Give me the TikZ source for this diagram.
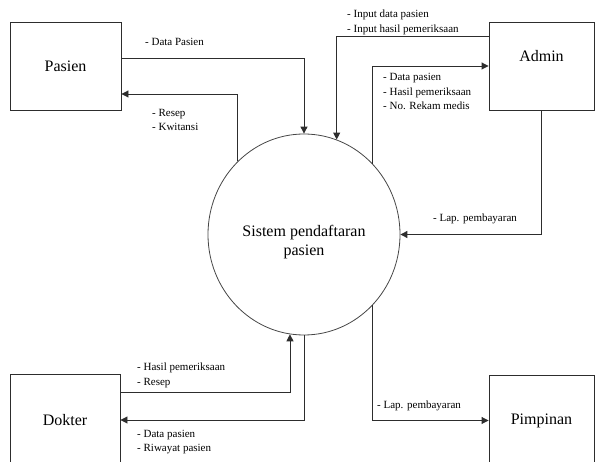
\documentclass[tikz,border=0pt]{standalone}
\usepackage{fontspec}
\setmainfont{Liberation Serif}
\usetikzlibrary{shapes.geometric,arrows.meta}
\definecolor{dfdcolor0001}{RGB}{45,45,45}
\definecolor{dfdcolor0002}{RGB}{70,70,70}

\begin{document}
\begin{tikzpicture}[yscale=-1
            ,pstyle0/.style={draw=dfdcolor0001,line width=0.9pt,inner sep=0pt,font=\fontsize{16}{18}\selectfont}
            ,pstyle1/.style={ellipse,draw=dfdcolor0002,line width=0.8pt,minimum width=192pt,minimum height=201pt,inner sep=0pt}
            ,pstyle2/.style={color=dfdcolor0001,line width=0.9pt,-{Triangle[length=7pt,width=7pt]}}
            ,pstyle3/.style={anchor=west,align=left,inner sep=0pt,font=\fontsize{11}{14.5}\selectfont}
            ,pstyle4/.style={align=center,inner sep=0pt,font=\fontsize{16}{19}\selectfont}
        ]
        \useasboundingbox (0pt,0pt) rectangle (595pt,462pt);
        % entities and process
        \node[pstyle0,minimum width=111pt,minimum height=88pt] (pasien) at (65.5pt,66pt) {Pasien};
        \node[pstyle0,minimum width=105pt,minimum height=88pt,text depth=21pt] (admin) at (541.5pt,66pt) {Admin};
        \node[pstyle0,minimum width=110pt,minimum height=92pt] (dokter) at (65pt,420pt) {Dokter};
        \node[pstyle0,minimum width=105pt,minimum height=91pt] (pimpinan) at (541.5pt,420.5pt) {Pimpinan};
        \node[pstyle1] (sistem) at (304pt,234.5pt) {};
        \node[pstyle4] (sistemtext) at (304pt,242pt) {Sistem pendaftaran\\pasien};
        % bends
        \coordinate (c1) at (0pt,58pt);
        \coordinate (c2) at (0pt,94pt);
        \coordinate (c3) at (0pt,36pt);
        \coordinate (c4) at (0pt,392pt);
        % flows
        \draw[pstyle2] (pasien.east |- c1) -| (sistem.north);
        \draw[pstyle2] (sistem.132) |- (pasien.east |- c2);
        \draw[pstyle2] (admin.west |- c3) -| (sistem.71);
        \draw[pstyle2] (sistem.46) |- (admin.west);
        \draw[pstyle2] (admin.south) |- (sistem.east);
        \draw[pstyle2] (sistem.-46) |- (pimpinan.west);
        \draw[pstyle2] (dokter.east |- c4) -| (sistem.262);
        \draw[pstyle2] (sistem.south) |- (dokter.east);
        % flow labels
        \node[pstyle3] (l1) at (145pt,42pt) {- Data Pasien};
        \node[pstyle3] (l2) at (152pt,120pt) {- Resep\\- Kwitansi};
        \node[pstyle3] (l3) at (347pt,22.5pt) {- Input data pasien\\- Input hasil pemeriksaan};
        \node[pstyle3] (l4) at (383pt,91.5pt) {- Data pasien\\- Hasil pemeriksaan\\- No. Rekam medis};
        \node[pstyle3] (l5) at (433pt,219pt) {- Lap. pembayaran};
        \node[pstyle3] (l6) at (137pt,375.5pt) {- Hasil pemeriksaan\\- Resep};
        \node[pstyle3] (l7) at (137pt,442pt) {- Data pasien\\- Riwayat pasien};
        \node[pstyle3] (l8) at (377pt,406pt) {- Lap. pembayaran};
    \end{tikzpicture}
\end{document}
